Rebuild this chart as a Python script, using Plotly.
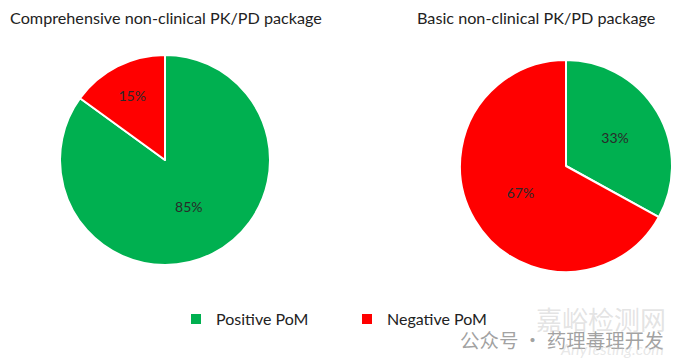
import plotly.graph_objects as go

labels = ["Positive PoM", "Negative PoM"]
comprehensive = [85, 15]
basic = [33, 67]
titles = ["Comprehensive non-clinical PK/PD package", "Basic non-clinical PK/PD package"]
colors = ["#00B050", "#FF0000"]

# page has an 8px body margin; figure is sized/positioned in screen pixels accordingly
OFF = 8
W, H = 672, 354
def px(x):
    return (x - OFF) / W
def py(y):
    return 1 - (y - OFF) / H

font = "Lato, 'Open Sans', sans-serif"

fig = go.Figure()
common = dict(
    labels=labels, sort=False, direction="clockwise", rotation=0,
    marker=dict(colors=colors, line=dict(color="white", width=2)),
    textinfo="percent", textposition="inside", insidetextorientation="horizontal",
    textfont=dict(family=font, size=14, color="#2a2a2a"),
    hoverinfo="label+percent",
)
fig.add_trace(go.Pie(values=comprehensive, domain=dict(x=[px(60), px(270)], y=[py(265), py(55)]), **common))
fig.add_trace(go.Pie(values=basic, domain=dict(x=[px(460), px(672)], y=[py(272), py(60)]), **common))

fig.add_annotation(text=titles[0], x=px(8), y=py(18), xref="paper", yref="paper",
                   xanchor="left", yanchor="middle", showarrow=False,
                   font=dict(family=font, size=16.2, color="#222"))
fig.add_annotation(text=titles[1], x=px(415), y=py(18), xref="paper", yref="paper",
                   xanchor="left", yanchor="middle", showarrow=False,
                   font=dict(family=font, size=16.2, color="#222"))

# watermark
fig.add_annotation(text="嘉峪检测网", x=px(668), y=py(318), xref="paper", yref="paper",
                   xanchor="right", yanchor="middle", showarrow=False,
                   font=dict(family="Noto Sans CJK SC", size=26, color="rgba(185,185,185,0.4)"))
fig.add_annotation(text="公众号 · 药理毒理开发", x=px(666), y=py(339), xref="paper", yref="paper",
                   xanchor="right", yanchor="middle", showarrow=False,
                   font=dict(family="Noto Sans CJK SC", size=19.5, color="rgba(120,120,120,0.7)"))
fig.add_annotation(text="<i>AnyTesting.com</i>", x=px(666), y=py(348), xref="paper", yref="paper",
                   xanchor="right", yanchor="middle", showarrow=False,
                   font=dict(family=font, size=16, color="rgba(195,195,195,0.4)"))

fig.update_layout(
    width=W, height=H, margin=dict(l=0, r=0, t=0, b=0),
    paper_bgcolor="white", plot_bgcolor="white",
    showlegend=True,
    legend=dict(orientation="h", x=px(176), y=py(319), xanchor="left", yanchor="middle",
                itemwidth=30, entrywidth=126, entrywidthmode="pixels",
                font=dict(family=font, size=16, color="#222"), bgcolor="rgba(0,0,0,0)"),
)

fig.write_html("out.html")
